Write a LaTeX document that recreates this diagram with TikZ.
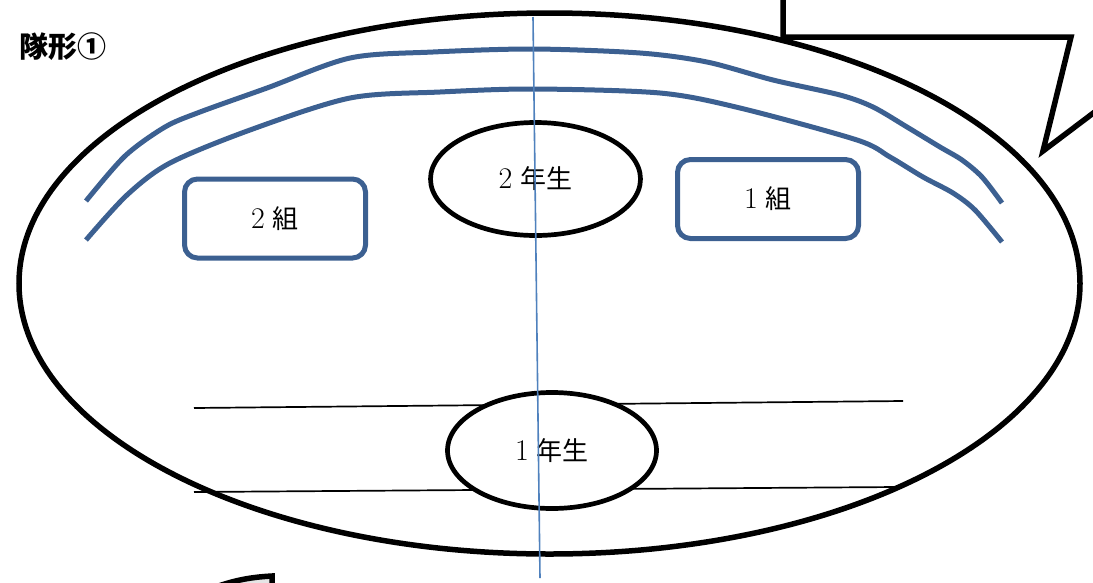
\documentclass[tikz,border=0pt]{standalone}
\usepackage{fontspec}
\newfontfamily\cjk{Noto Sans CJK JP}
\usetikzlibrary{shapes.geometric}
\definecolor{bandblue}{HTML}{3C6091}
\definecolor{axisblue}{HTML}{4F81BD}
\tikzset{
  field/.style={ellipse, draw=black, line width=5.5pt, inner sep=0pt},
  grade/.style={ellipse, draw=black, fill=white, line width=4.7pt, inner sep=0pt},
  classbox/.style={rectangle, rounded corners=13pt, draw=bandblue, fill=white, line width=5pt, inner sep=0pt,
    minimum width=181pt, minimum height=79pt},
  band/.style={draw=bandblue, line width=5pt, line cap=butt},
  rowline/.style={draw=black, line width=1.7pt},
  thickline/.style={draw=black, line width=5.5pt, line join=miter},
}
\newcommand{\dg}[1]{{\fontsize{30}{32}\selectfont #1}}
\newcommand{\kj}[1]{{\cjk\fontsize{26}{30}\selectfont #1}}
\newcommand{\gap}{\hspace{8pt}}
\begin{document}
\begin{tikzpicture}[x=1pt,y=-1pt]
\useasboundingbox (0,0) rectangle (1093,582);
% callout (top right)
\coordinate (ca) at (783,-5);
\coordinate (cb) at (783,37);
\coordinate (cc) at (1071,37);
\coordinate (cd) at (1043,151);
\coordinate (ce) at (1100,108);
\draw[thickline] (ca) -- (cb) -- (cc) -- (cd) -- (ce);
% bottom-left fragment
\coordinate (fa) at (208,590);
\coordinate (fb) at (272,576);
\coordinate (fc) at (272,590);
\fill[gray!20] (fa) .. controls (235,579) and (255,577) .. (fb) -- (fc) -- cycle;
\draw[thickline] (fa) .. controls (235,579) and (255,577) .. (fb) -- (fc);
% field
\node[field, minimum width=1061pt, minimum height=541pt] (fieldnode) at (549.5,283.5) {};
% title
\node[anchor=west, inner sep=0pt, font=\cjk\bfseries\fontsize{29}{31}\selectfont] (title) at (19,47) {隊形①};
% bands
\draw[band] plot[smooth] coordinates {(86,201) (125,156) (165,127) (200,112) (267,88) (350,58) (433,52) (533,49) (640,53) (707,62) (773,80) (840,95) (873,107) (907,127) (940,147) (962,160) (982,177) (1002,203)};
\draw[band] plot[smooth] coordinates {(86,240) (127,195) (170,163) (250,130) (350,98) (440,92) (533,89) (660,93) (740,108) (857,140) (890,157) (923,177) (953,193) (975,210) (1002,242)};
% row lines
\coordinate (r1a) at (194,408);
\coordinate (r1b) at (903,401);
\coordinate (r2a) at (194,492);
\coordinate (r2b) at (897,487);
\draw[rowline] (r1a) -- (r1b);
\draw[rowline] (r2a) -- (r2b);
% grades
\node[grade, minimum width=210pt, minimum height=113pt] (g2) at (535.5,179) {\dg{2}\gap\kj{年生}};
\node[grade, minimum width=209pt, minimum height=116pt] (g1) at (552,450.5) {\dg{1}\gap\kj{年生}};
% classes
\node[classbox] (c2) at (275,218.5) {\dg{2}\gap\kj{組}};
\node[classbox] (c1) at (768,199) {\dg{1}\gap\kj{組}};
% axis
\coordinate (ax1) at (533,17);
\coordinate (ax2) at (540,578);
\draw[draw=axisblue, line width=1.6pt] (ax1) -- (ax2);
\end{tikzpicture}
\end{document}
